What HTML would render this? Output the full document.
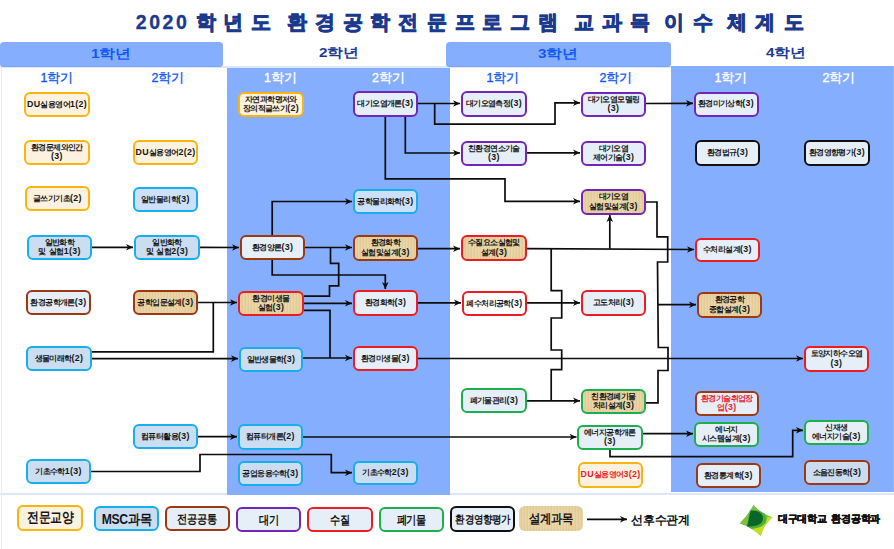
<!DOCTYPE html>
<html><head><meta charset="utf-8">
<style>
html,body{margin:0;padding:0;}
body{width:894px;height:549px;position:relative;overflow:hidden;background:#fff;font-family:"Liberation Sans",sans-serif;}
.abs{position:absolute;}
.col{position:absolute;background:#86AEFE;}
.tab{position:absolute;background:#86AEFE;border-radius:4px;box-shadow:inset 0 -1px 0 #7DA6F8;}
.yr{position:absolute;font-size:12.5px;font-weight:bold;text-align:center;line-height:16px;transform:scaleX(1.22);}
.sem{position:absolute;font-size:12.5px;font-weight:normal;text-align:center;line-height:14px;width:60px;-webkit-text-stroke-width:0.35px;}
.tc{position:absolute;top:11px;font-size:20px;font-weight:bold;color:#1B3A8E;line-height:22px;white-space:nowrap;-webkit-text-stroke:0.9px #1B3A8E;}
.dg{font-size:19.5px;letter-spacing:2.6px;-webkit-text-stroke:0.3px #1B3A8E;}
.b{position:absolute;box-sizing:border-box;border:2.5px solid #000;border-radius:6px;display:flex;align-items:center;justify-content:center;text-align:center;font-size:8px;font-weight:bold;line-height:8.5px;color:#161616;background:#E6EEF8;white-space:nowrap;letter-spacing:-0.6px;}
.b .l{font-size:8.8px;letter-spacing:0.35px;}
.lg .l{font-size:13px;letter-spacing:0;}
.o{border-color:#F7B512;background:#FDF1DF;}
.c{border-color:#17AEEA;background:#CADDF1;}
.c2{border-color:#17AEEA;background:#CDE0FB;}
.br{border-color:#9C3812;}
.p{border-color:#7026B6;}
.r{border-color:#EC1C24;}
.g{border-color:#1DAE4D;}
.k{border-color:#111;}
.w{background:#FFFFFF;}
.f2{background:#CCDCF0;}
.t{background-color:#E9D3A1;background-image:repeating-linear-gradient(90deg,rgba(255,252,240,0.10) 0 1px,rgba(0,0,0,0) 1px 2px,rgba(140,95,30,0.05) 2px 3px),radial-gradient(ellipse at center,rgba(255,250,235,0.12),rgba(150,100,30,0.06));}
.rt{color:#EE1C24;}
.nb{border:none;}
.lg{font-size:13px;letter-spacing:0;line-height:14px;}
.lg{letter-spacing:-0.4px;}
svg{position:absolute;left:0;top:0;}
.ln path{fill:none;stroke:#0c0c0c;stroke-width:1.7;stroke-linejoin:miter;}
</style></head><body>
<div class="tc dg" style="left:135.7px">2020</div>
<div class="tc" style="left:195.7px">학</div>
<div class="tc" style="left:223px">년</div>
<div class="tc" style="left:251px">도</div>
<div class="tc" style="left:286.7px">환</div>
<div class="tc" style="left:315px">경</div>
<div class="tc" style="left:342.6px">공</div>
<div class="tc" style="left:370.2px">학</div>
<div class="tc" style="left:397.8px">전</div>
<div class="tc" style="left:427px">문</div>
<div class="tc" style="left:454.5px">프</div>
<div class="tc" style="left:482px">로</div>
<div class="tc" style="left:509.8px">그</div>
<div class="tc" style="left:538px">램</div>
<div class="tc" style="left:573.5px">교</div>
<div class="tc" style="left:601.7px">과</div>
<div class="tc" style="left:630px">목</div>
<div class="tc" style="left:664.4px">이</div>
<div class="tc" style="left:692.6px">수</div>
<div class="tc" style="left:727px">체</div>
<div class="tc" style="left:755.3px">계</div>
<div class="tc" style="left:783.5px">도</div>
<div class="abs" style="left:0;top:66px;width:894px;height:2px;background:#DCE7FC"></div>
<div class="abs" style="left:0;top:493px;width:894px;height:2px;background:#DCE7FC"></div>
<div class="abs" style="left:0.5px;top:67px;width:1.2px;height:482px;background:#E2EBFC"></div>
<div class="tab" style="left:0;top:42px;width:223px;height:24.8px"></div>
<div class="tab" style="left:446px;top:42px;width:225px;height:24.8px"></div>
<div class="col" style="left:226.5px;top:68px;width:223.7px;height:427px"></div>
<div class="col" style="left:671px;top:65.5px;width:223px;height:426.5px"></div>
<div class="abs" style="left:893px;top:65.5px;width:1px;height:426.5px;background:#90B8FF"></div>
<div class="yr" style="left:81px;top:45.5px;width:60px;color:#1059F5">1학년</div>
<div class="yr" style="left:309px;top:45px;width:60px;color:#1B3A8E">2학년</div>
<div class="yr" style="left:528px;top:45.5px;width:60px;color:#1059F5">3학년</div>
<div class="yr" style="left:756px;top:45px;width:60px;color:#1B3A8E">4학년</div>
<div class="sem" style="left:27px;top:71px;color:#1059F5">1학기</div>
<div class="sem" style="left:138px;top:71px;color:#1059F5">2학기</div>
<div class="sem" style="left:250.5px;top:71px;color:#fff">1학기</div>
<div class="sem" style="left:358.5px;top:71px;color:#fff">2학기</div>
<div class="sem" style="left:473px;top:71px;color:#1059F5">1학기</div>
<div class="sem" style="left:586px;top:71px;color:#1059F5">2학기</div>
<div class="sem" style="left:701px;top:71px;color:#fff">1학기</div>
<div class="sem" style="left:809px;top:71px;color:#fff">2학기</div>
<svg class="ln" width="894" height="549" viewBox="0 0 894 549"><defs><marker id="ar" markerWidth="8" markerHeight="8" refX="7" refY="4" orient="auto" markerUnits="userSpaceOnUse"><path d="M0,0.7 L7,4 L0,7.3 L2,4 Z" style="fill:#0c0c0c;stroke:none"/></marker></defs>
<path d="M92,247.3 L133,247.3" marker-end="url(#ar)"/>
<path d="M196,247.3 L239,247.5" marker-end="url(#ar)"/>
<path d="M198,302.5 L237,302.5" marker-end="url(#ar)"/>
<path d="M91,351.8 L213.3,351.8 L213.3,302.5"/>
<path d="M91,358.6 L238,358.6" marker-end="url(#ar)"/>
<path d="M198,436.7 L237,436.7" marker-end="url(#ar)"/>
<path d="M90.7,471.5 L200,471.5 L200,454.5 L331.3,454.5 L331.3,472.7 L352,472.7" marker-end="url(#ar)"/>
<path d="M272.2,235 L272.2,201.5 L352,201.5" marker-end="url(#ar)"/>
<path d="M305,247.5 L352,247.5" marker-end="url(#ar)"/>
<path d="M272.2,260 L272.2,275 L385.3,275 L385.3,289" marker-end="url(#ar)"/>
<path d="M304,296.2 L329.5,296.2 L329.5,285.8 L338.7,285.8 L338.7,263.3 L330.5,263.3 L330.5,247.5"/>
<path d="M304,303.3 L352,303.3" marker-end="url(#ar)"/>
<path d="M304,310.3 L330,310.3 L330,358"/>
<path d="M303,358 L352,358" marker-end="url(#ar)"/>
<path d="M303,437 L576.5,437" marker-end="url(#ar)"/>
<path d="M418,103.5 L460,103.5" marker-end="url(#ar)"/>
<path d="M434.7,103.5 L434.7,124.2 L555,124.2 L555,102.8 L580,102.8" marker-end="url(#ar)"/>
<path d="M405.3,117 L405.3,153 L460,153" marker-end="url(#ar)"/>
<path d="M385.3,117 L385.3,178.8 L505,178.8 L505,201.3 L580,201.3" marker-end="url(#ar)"/>
<path d="M527,152.8 L580,152.8" marker-end="url(#ar)"/>
<path d="M646,103.5 L693,103.3" marker-end="url(#ar)"/>
<path d="M418,248.7 L460,248.7" marker-end="url(#ar)"/>
<path d="M418,302.8 L461,302.8" marker-end="url(#ar)"/>
<path d="M527,302.8 L580,302.8" marker-end="url(#ar)"/>
<path d="M418,358.5 L803,358.5" marker-end="url(#ar)"/>
<path d="M527,248.7 L694,249.5" marker-end="url(#ar)"/>
<path d="M609.8,248.7 L609.8,215" marker-end="url(#ar)"/>
<path d="M551.2,248.7 L551.2,290.7 L561.7,290.7 L561.7,318 L551.2,318 L551.2,350 L561.7,350 L561.7,369.7 L551.2,369.7 L551.2,400.8"/>
<path d="M527,400.8 L580,400.8" marker-end="url(#ar)"/>
<path d="M646,202 L657,202 L657,236.8 L667.7,236.8 L667.7,262 L657.5,262 L658.3,347.5 L668,347.5 L668,370.5 L658,370.5 L658,402.8 L646,402.8"/>
<path d="M658,304.7 L696,304.7" marker-end="url(#ar)"/>
<path d="M643,433.7 L693,433.7" marker-end="url(#ar)"/>
<path d="M610,450 L610,456.7 L792.7,456.7 L792.7,430.3 L803,430.3" marker-end="url(#ar)"/>
<path d="M587,519.3 L627,519.3" marker-end="url(#ar)"/>
</svg>
<div class="b o" style="left:24px;top:92px;width:66px;height:25px"><div><span class="l">DU</span>실용영어<span class="l">1(2)</span></div></div>
<div class="b o" style="left:24px;top:140px;width:66px;height:25px"><div>환경문제와인간<br><span class="l">(3)</span></div></div>
<div class="b o" style="left:25px;top:186px;width:65px;height:25px"><div>글쓰기기초<span class="l">(2)</span></div></div>
<div class="b c" style="left:27px;top:235px;width:65px;height:25px"><div>일반화학<br>및&nbsp; 실험<span class="l">1(3)</span></div></div>
<div class="b br" style="left:26px;top:290px;width:65px;height:25px"><div>환경공학개론<span class="l">(3)</span></div></div>
<div class="b c" style="left:26px;top:346px;width:66px;height:25px"><div>생물미래학<span class="l">(2)</span></div></div>
<div class="b c" style="left:26px;top:459px;width:65px;height:25px"><div>기초수학<span class="l">1(3)</span></div></div>
<div class="b o" style="left:133px;top:140px;width:65px;height:25px"><div><span class="l">DU</span>실용영어<span class="l">2(2)</span></div></div>
<div class="b c2" style="left:133px;top:187px;width:65px;height:25px"><div>일반물리학<span class="l">(3)</span></div></div>
<div class="b c" style="left:134px;top:235px;width:66px;height:25px"><div>일반화학<br>및&nbsp; 실험<span class="l">2(3)</span></div></div>
<div class="b br t" style="left:133px;top:290px;width:65px;height:25px"><div>공학입문설계<span class="l">(3)</span></div></div>
<div class="b c" style="left:133px;top:424px;width:65px;height:25px"><div>컴퓨터활용<span class="l">(3)</span></div></div>
<div class="b o" style="left:238px;top:92px;width:66px;height:25px"><div>자연과학명저와<br>장의적글쓰기<span class="l">(2)</span></div></div>
<div class="b br" style="left:240px;top:235px;width:65px;height:25px"><div>환경양론<span class="l">(3)</span></div></div>
<div class="b r t" style="left:238px;top:291px;width:66px;height:25px"><div>환경미생물<br>실험<span class="l">(3)</span></div></div>
<div class="b c" style="left:239px;top:347px;width:64px;height:25px"><div>일반생물학<span class="l">(3)</span></div></div>
<div class="b c" style="left:238px;top:424px;width:65px;height:26px"><div>컴퓨터개론<span class="l">(2)</span></div></div>
<div class="b c" style="left:238px;top:461px;width:65px;height:25px"><div>공업응용수학<span class="l">(3)</span></div></div>
<div class="b p" style="left:353px;top:91px;width:65px;height:26px"><div>대기오염개론<span class="l">(3)</span></div></div>
<div class="b c2" style="left:353px;top:189px;width:65px;height:25px"><div>공학물리화학<span class="l">(3)</span></div></div>
<div class="b br t" style="left:353px;top:235px;width:65px;height:26px"><div>환경화학<br>실험및설계<span class="l">(3)</span></div></div>
<div class="b r" style="left:353px;top:290px;width:65px;height:26px"><div>환경화학<span class="l">(3)</span></div></div>
<div class="b r" style="left:353px;top:346px;width:65px;height:25px"><div>환경미생물<span class="l">(3)</span></div></div>
<div class="b c" style="left:353px;top:461px;width:65px;height:24px"><div>기초수학<span class="l">2(3)</span></div></div>
<div class="b p" style="left:461px;top:91px;width:66px;height:26px"><div>대기오염측정<span class="l">(3)</span></div></div>
<div class="b p" style="left:461px;top:141px;width:66px;height:25px"><div>친환경연소기술<br><span class="l">(3)</span></div></div>
<div class="b r t" style="left:461px;top:235px;width:66px;height:26px"><div>수질요소실험및<br>설계<span class="l">(3)</span></div></div>
<div class="b r w" style="left:462px;top:291px;width:65px;height:25px"><div>폐수처리공학<span class="l">(3)</span></div></div>
<div class="b g" style="left:461px;top:388px;width:66px;height:25px"><div>폐기물관리<span class="l">(3)</span></div></div>
<div class="b p" style="left:581px;top:92px;width:65px;height:25px"><div>대기오염모델링<br><span class="l">(3)</span></div></div>
<div class="b p" style="left:581px;top:141px;width:65px;height:25px"><div>대기오염<br>제어기술<span class="l">(3)</span></div></div>
<div class="b p t" style="left:581px;top:189px;width:65px;height:26px"><div>대기오염<br>실험및설계<span class="l">(3)</span></div></div>
<div class="b r" style="left:581px;top:290px;width:65px;height:26px"><div>고도처리<span class="l">(3)</span></div></div>
<div class="b g t" style="left:581px;top:389px;width:65px;height:25px"><div>친환경폐기물<br>처리설계<span class="l">(3)</span></div></div>
<div class="b g" style="left:577px;top:425px;width:66px;height:25px"><div>에너지공학개론<br><span class="l">(3)</span></div></div>
<div class="b o rt" style="left:578px;top:462px;width:65px;height:26px"><div><span class="l">DU</span>실용영어<span class="l">3(2)</span></div></div>
<div class="b p" style="left:693.5px;top:91.5px;width:65px;height:25px"><div>환경미기상학<span class="l">(3)</span></div></div>
<div class="b k" style="left:695px;top:140px;width:65px;height:26px"><div>환경법규<span class="l">(3)</span></div></div>
<div class="b r" style="left:695px;top:238px;width:65px;height:24px"><div>수처리설계<span class="l">(3)</span></div></div>
<div class="b br t" style="left:697px;top:292px;width:65px;height:26px"><div>환경공학<br>종합설계<span class="l">(3)</span></div></div>
<div class="b br rt" style="left:695px;top:391px;width:64px;height:25px"><div>환경기술취업장<br>업<span class="l">(3)</span></div></div>
<div class="b g" style="left:694px;top:422px;width:65px;height:25px"><div>에너지<br>시스템설계<span class="l">(3)</span></div></div>
<div class="b br" style="left:696px;top:463px;width:65px;height:25px"><div>환경통계학<span class="l">(3)</span></div></div>
<div class="b k" style="left:804px;top:140px;width:66px;height:26px"><div>환경영향평가<span class="l">(3)</span></div></div>
<div class="b r" style="left:804px;top:346px;width:65px;height:26px"><div>토양지하수오염<br><span class="l">(3)</span></div></div>
<div class="b g" style="left:804px;top:420px;width:65px;height:25px"><div>신재생<br>에너지기술<span class="l">(3)</span></div></div>
<div class="b br f2" style="left:804px;top:460px;width:66px;height:25px"><div>소음진동학<span class="l">(3)</span></div></div>
<div class="b o lg" style="left:17px;top:505px;width:66px;height:26px;font-size:14px"><div style="transform:translateY(-1px) scaleX(0.85)">전문교양</div></div>
<div class="b c lg" style="left:94px;top:506px;width:65px;height:25px;font-size:14px"><div style="transform:translateY(-0.5px) scaleX(0.87)">MSC과목</div></div>
<div class="b br lg" style="left:165px;top:506px;width:65px;height:25px;font-size:12px"><div style="transform:translateY(0px) scaleX(0.85)">전공공통</div></div>
<div class="b p lg" style="left:236px;top:507px;width:65px;height:25px;font-size:12px"><div style="transform:translateY(0px) scaleX(0.85)">대기</div></div>
<div class="b r lg" style="left:307px;top:507px;width:66px;height:25px;font-size:12px"><div style="transform:translateY(0px) scaleX(0.85)">수질</div></div>
<div class="b g lg" style="left:379px;top:507px;width:65px;height:25px;font-size:12px"><div style="transform:translateY(0px) scaleX(0.85)">폐기물</div></div>
<div class="b k lg" style="left:450px;top:506px;width:65px;height:26px;font-size:11px"><div style="transform:translateY(0px) scaleX(0.86)">환경영향평가</div></div>
<div class="b t nb lg" style="left:519px;top:506px;width:64px;height:25px;font-size:12.5px"><div style="transform:translateY(0px) scaleX(0.87)">설계과목</div></div>
<div class="abs" style="left:631px;top:512px;font-size:12px;font-weight:bold;line-height:16px;color:#111;white-space:nowrap;letter-spacing:-0.2px">선후수관계</div>
<svg class="abs" style="left:737px;top:503px" width="38" height="35" viewBox="0 0 38 35">
<defs><clipPath id="lc"><path d="M16.6,1.8 Q23,10 35.5,14.2 Q27,21 23.8,32.7 Q14,24 2.6,20.5 Q11,12 16.6,1.8 Z"/></clipPath></defs>
<g clip-path="url(#lc)" style="stroke:none">
<rect x="0" y="0" width="38" height="35" style="fill:#79C043"/>
<path d="M38,12.5 L29.5,14.5 C29.8,22.5 22,26.5 9,26 L6,35 L38,35 Z" style="fill:#C3E01C"/>
<path d="M13,6.8 C22,6 29.5,9.5 29.5,16 C29.5,22.8 21,26.2 9,26 Z" style="fill:#4FAE35"/>
<path d="M13.8,7.8 C21,7 26,10 26,15.5 C26,21 19.5,23.8 10.2,23.6 C11.5,18 12.5,12 13.8,7.8 Z" style="fill:#0A6629"/>
</g>
</svg>
<div class="abs" style="left:778px;top:513px;font-size:10px;font-weight:bold;line-height:12px;color:#111;white-space:nowrap;letter-spacing:-0.3px;-webkit-text-stroke-width:0.5px">대구대학교&nbsp;&nbsp;환경공학과</div>
</body></html>
